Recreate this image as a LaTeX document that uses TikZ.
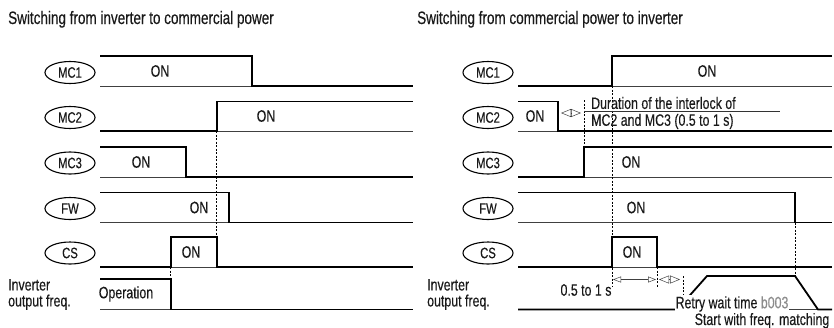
\documentclass[tikz,border=0pt]{standalone}
\usepackage{fontspec}
\setmainfont{Liberation Sans}[FakeStretch=0.75,FakeBold=0.3]
\usetikzlibrary{arrows.meta,shapes.geometric}
\begin{document}
\begin{tikzpicture}[x=1pt,y=-1pt,
  sig/.style={line width=1.8pt, line join=miter, black},
  base/.style={line width=0.8pt, black!75},
  guide/.style={dash pattern=on 2pt off 1.5pt, line width=0.6pt, black},
  tag/.style={ellipse, draw, line width=1.1pt, minimum width=50pt, minimum height=22pt, inner sep=0pt, font=\fontsize{15}{17}\selectfont, text=black!90},
  lbl/.style={font=\fontsize{16.5}{16}\selectfont, text=black!90, inner sep=0pt},
  ttl/.style={font=\fontsize{18}{20}\selectfont, text=black!90, inner sep=0pt, anchor=base west},
  dimarrow/.style={{Triangle[open,length=8pt,width=6pt]}-{Triangle[open,length=8pt,width=6pt]}, line width=0.5pt, black!75},
  diamarrow/.style={{Triangle[open,length=10pt,width=8pt]}-{Triangle[open,length=10pt,width=8pt]}, line width=0.5pt, black!75}]
\useasboundingbox (0,0) rectangle (834,327);

% titles
\node[ttl] (t1) at (8,24) {Switching from inverter to commercial power};
\node[ttl] (t2) at (417,24) {Switching from commercial power to inverter};

% ================= LEFT PANEL =================
\foreach \y in {86,131,177,222.5,267,309.5} \draw[base] (100,\y) -- (413,\y);
\node[tag] (lmc1) at (70,72.5) {MC1};
\node[tag] (lmc2) at (70,117.5) {MC2};
\node[tag] (lmc3) at (70,163) {MC3};
\node[tag] (lfw) at (70,208.5) {FW};
\node[tag] (lcs) at (70,253) {CS};
\node[lbl, align=left, anchor=west] (linv) at (8,294.5) {Inverter\\output freq.};

\draw[sig] (100,56) -- (252,56) -- (252,86) -- (413,86);
\draw[sig] (100,131) -- (216.7,131) -- (216.7,101.5) -- (413,101.5);
\draw[sig] (100,147) -- (185.7,147) -- (185.7,177) -- (413,177);
\draw[sig] (100,192.5) -- (229,192.5) -- (229,222.5) -- (413,222.5);
\draw[sig] (100,267) -- (170.7,267) -- (170.7,237) -- (216.7,237) -- (216.7,267) -- (413,267);
\draw[sig] (100,279) -- (170.7,279) -- (170.7,309.5) -- (413,309.5);

\draw[guide] (216.7,131) -- (216.7,237);
\draw[guide] (170.7,267) -- (170.7,279);

\node[lbl] (lon1) at (160,71) {ON};
\node[lbl] (lon2) at (266,116) {ON};
\node[lbl] (lon3) at (141,162) {ON};
\node[lbl] (lon4) at (199,207.5) {ON};
\node[lbl] (lon5) at (191,252) {ON};
\node[lbl] (lop) at (126,294) {Operation};

% ================= RIGHT PANEL =================
\foreach \y in {86,131,177,222.5,267,309.5} \draw[base] (518,\y) -- (832,\y);
\node[tag] (rmc1) at (488,72.5) {MC1};
\node[tag] (rmc2) at (488,117.5) {MC2};
\node[tag] (rmc3) at (488,163) {MC3};
\node[tag] (rfw) at (488,208.5) {FW};
\node[tag] (rcs) at (488,253) {CS};
\node[lbl, align=left, anchor=west] (rinv) at (427,294.5) {Inverter\\output freq.};

\draw[sig] (518,86) -- (612,86) -- (612,56) -- (832,56);
\draw[sig] (518,101.5) -- (557.7,101.5) -- (557.7,131) -- (832,131);
\draw[sig] (518,177) -- (584,177) -- (584,147) -- (832,147);
\draw[sig] (518,192.5) -- (795,192.5) -- (795,222.5) -- (832,222.5);
\draw[sig] (518,267) -- (612,267) -- (612,237) -- (657,237) -- (657,267) -- (832,267);
\draw[sig] (518,309.5) -- (683,309.5) -- (683,303) -- (707,276) -- (795,276) -- (818,309.5) -- (832,309.5);

\draw[guide] (584,100) -- (584,177);
\draw[guide] (612,86) -- (612,286);
\draw[guide] (657,267) -- (657,287);
\draw[guide] (683,276) -- (683,303);
\draw[guide] (795,222.5) -- (795,276);

\coordinate (ia) at (561,113);
\coordinate (ib) at (581,113);
\draw[diamarrow] (ia) -- (ib);
\coordinate (da) at (613,279.5);
\coordinate (db) at (656,279.5);
\coordinate (dc) at (659,279.5);
\coordinate (dd) at (680,279.5);
\draw[dimarrow] (da) -- (db);
\draw[diamarrow] (dc) -- (dd);

\draw[line width=0.6pt, black!80] (584,111.7) -- (780,111.7);
\node[lbl, anchor=west] (dur1) at (591,103) {Duration of the interlock of};
\node[lbl, anchor=west] (dur2) at (591,121.5) {MC2 and MC3 (0.5 to 1 s)};

\node[lbl] (ron1) at (707,71) {ON};
\node[lbl] (ron2) at (535,116) {ON};
\node[lbl] (ron3) at (631,162) {ON};
\node[lbl] (ron4) at (636,207.5) {ON};
\node[lbl] (ron5) at (632,252) {ON};
\node[lbl] (rhalf) at (586,290) {0.5 to 1 s};
\node[lbl, fill=white, inner sep=1pt] (rretry) at (732,304) {Retry wait time \textcolor{black!45}{b003}};
\node[lbl, anchor=base] (rstart) at (762,325) {Start with freq. matching};
\end{tikzpicture}
\end{document}
